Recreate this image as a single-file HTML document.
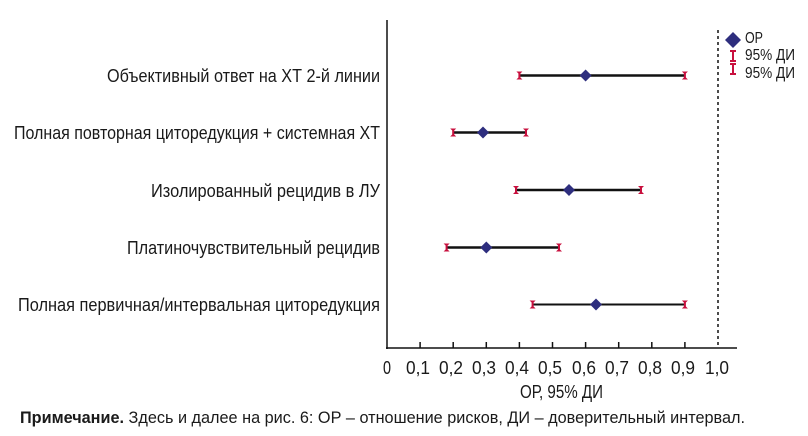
<!DOCTYPE html>
<html><head><meta charset="utf-8"><style>
html,body{margin:0;padding:0;background:#fff;}
svg{display:block;}
text{font-family:"Liberation Sans Narrow","Liberation Sans",sans-serif;fill:#1a1a1a;}
</style></head><body>
<svg width="808" height="436" viewBox="0 0 808 436" xmlns="http://www.w3.org/2000/svg">
<defs>
<g id="cap"><path d="M-3,-4 L3,-4 L1,-2 L1,2 L3,4 L-3,4 L-1,2 L-1,-2 Z" fill="#c8103e"/></g>
<g id="dia"><path d="M0,-6 L6,0 L0,6 L-6,0 Z" fill="#2e2e7e"/></g>
</defs>
<line x1="387" y1="20" x2="387" y2="349" stroke="#111" stroke-width="1.5"/>
<line x1="386" y1="348" x2="737" y2="348" stroke="#111" stroke-width="1.5"/>
<line x1="718" y1="30" x2="718" y2="348" stroke="#111" stroke-width="1.5" stroke-dasharray="3,3"/>
<g stroke="#111" stroke-width="1.5">
<line x1="420.1" y1="342" x2="420.1" y2="348"/><line x1="453.2" y1="342" x2="453.2" y2="348"/>
<line x1="486.3" y1="342" x2="486.3" y2="348"/><line x1="519.4" y1="342" x2="519.4" y2="348"/>
<line x1="552.5" y1="342" x2="552.5" y2="348"/><line x1="585.6" y1="342" x2="585.6" y2="348"/>
<line x1="618.7" y1="342" x2="618.7" y2="348"/><line x1="651.8" y1="342" x2="651.8" y2="348"/>
<line x1="684.9" y1="342" x2="684.9" y2="348"/>
</g>
<g font-size="18">
<text x="383" y="374" textLength="8" lengthAdjust="spacingAndGlyphs">0</text>
<text x="406" y="374" textLength="24" lengthAdjust="spacingAndGlyphs">0,1</text>
<text x="439" y="374" textLength="24" lengthAdjust="spacingAndGlyphs">0,2</text>
<text x="472" y="374" textLength="24" lengthAdjust="spacingAndGlyphs">0,3</text>
<text x="505" y="374" textLength="24" lengthAdjust="spacingAndGlyphs">0,4</text>
<text x="538" y="374" textLength="24" lengthAdjust="spacingAndGlyphs">0,5</text>
<text x="572" y="374" textLength="24" lengthAdjust="spacingAndGlyphs">0,6</text>
<text x="605" y="374" textLength="24" lengthAdjust="spacingAndGlyphs">0,7</text>
<text x="638" y="374" textLength="24" lengthAdjust="spacingAndGlyphs">0,8</text>
<text x="671" y="374" textLength="24" lengthAdjust="spacingAndGlyphs">0,9</text>
<text x="705" y="374" textLength="24" lengthAdjust="spacingAndGlyphs">1,0</text>
<text x="520" y="398" textLength="83" lengthAdjust="spacingAndGlyphs">ОР, 95% ДИ</text>
</g>
<g font-size="18" text-anchor="end">
<text x="380" y="82" textLength="273" lengthAdjust="spacingAndGlyphs">Объективный ответ на ХТ 2-й линии</text>
<text x="380" y="139" textLength="366" lengthAdjust="spacingAndGlyphs">Полная повторная циторедукция + системная ХТ</text>
<text x="380" y="197" textLength="229" lengthAdjust="spacingAndGlyphs">Изолированный рецидив в ЛУ</text>
<text x="380" y="254" textLength="253" lengthAdjust="spacingAndGlyphs">Платиночувствительный рецидив</text>
<text x="380" y="311" textLength="362" lengthAdjust="spacingAndGlyphs">Полная первичная/интервальная циторедукция</text>
</g>
<g stroke="#111" stroke-width="2.5">
<line x1="519.4" y1="75.5" x2="684.9" y2="75.5"/>
<line x1="453.2" y1="132.5" x2="526" y2="132.5"/>
<line x1="516" y1="190" x2="641" y2="190"/>
<line x1="446.6" y1="247.5" x2="559" y2="247.5"/>
<line x1="532.6" y1="304.5" x2="684.9" y2="304.5" stroke-width="2"/>
</g>
<use href="#cap" x="519.4" y="75.5"/><use href="#cap" x="684.9" y="75.5"/><use href="#dia" x="585.6" y="75.5"/>
<use href="#cap" x="453.2" y="132.5"/><use href="#cap" x="526" y="132.5"/><use href="#dia" x="483" y="132.5"/>
<use href="#cap" x="516" y="190"/><use href="#cap" x="641" y="190"/><use href="#dia" x="569" y="190"/>
<use href="#cap" x="446.6" y="247.5"/><use href="#cap" x="559" y="247.5"/><use href="#dia" x="486.3" y="247.5"/>
<use href="#cap" x="532.6" y="304.5"/><use href="#cap" x="684.9" y="304.5"/><use href="#dia" x="596" y="304.5"/>
<path d="M733,32 L741,40 L733,48 L725,40 Z" fill="#2e2e7e"/>
<g fill="#c8103e"><rect x="730" y="50" width="6" height="2"/><rect x="732" y="50" width="2" height="12"/><rect x="730" y="60" width="6" height="2"/>
<rect x="730" y="63" width="6" height="2"/><rect x="732" y="63" width="2" height="12"/><rect x="730" y="73" width="6" height="2"/></g>
<g font-size="16">
<text x="745" y="43" textLength="18" lengthAdjust="spacingAndGlyphs">ОР</text>
<text x="745" y="60" textLength="50" lengthAdjust="spacingAndGlyphs">95% ДИ</text>
<text x="745" y="78" textLength="50" lengthAdjust="spacingAndGlyphs">95% ДИ</text></g>
<text x="20" y="423" font-size="17" textLength="725" lengthAdjust="spacingAndGlyphs"><tspan font-weight="bold">Примечание.</tspan> Здесь и далее на рис. 6: ОР – отношение рисков, ДИ – доверительный интервал.</text>
</svg>
</body></html>
